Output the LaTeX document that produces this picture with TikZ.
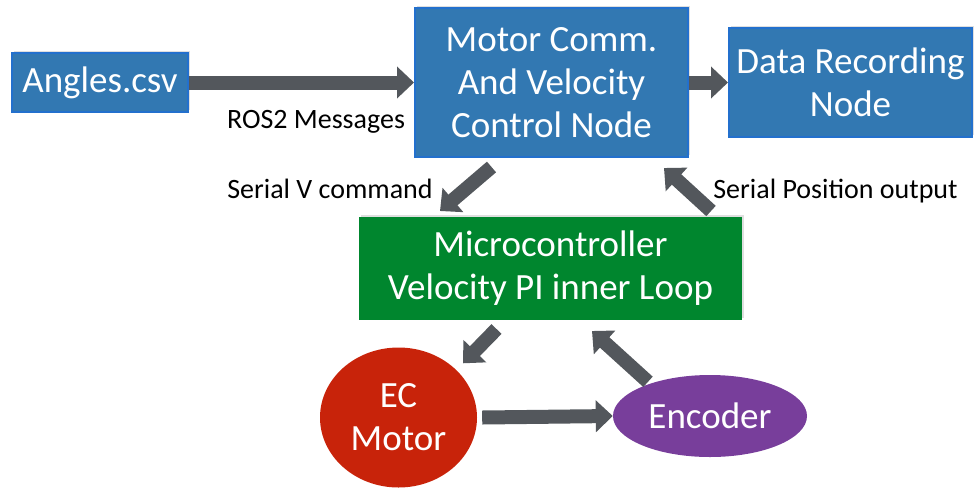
\documentclass[tikz,border=0pt]{standalone}
\usepackage{fontspec}
\setmainfont{Carlito}
\usetikzlibrary{arrows.meta,calc,shapes.geometric,shadows}
\definecolor{boxblue}{RGB}{50,120,178}
\definecolor{boxedge}{RGB}{35,112,205}
\definecolor{boxgreen}{RGB}{0,134,46}
\definecolor{boxred}{RGB}{200,35,10}
\definecolor{boxpurple}{RGB}{120,62,155}
\definecolor{arrowgray}{RGB}{83,87,92}
\tikzset{
  block/.style = {rectangle, draw=boxedge, line width=2pt, fill=boxblue, text=white,
    align=center, font=\fontsize{37}{43}\selectfont,
    drop shadow={opacity=0.25, shadow xshift=1.5pt, shadow yshift=2pt}},
  bigarrow/.style = {draw=arrowgray, line width=14pt,
    -{Triangle[length=17pt,width=31pt]}},
  caption/.style = {anchor=base, font=\fontsize{28}{32}\selectfont}
}
\tikzset{>=latex}
\begin{document}
\begin{tikzpicture}[x=1pt,y=-1pt]
  \clip (0,0) rectangle (974,491);
  \node (angles) at (100,82.5) [block, minimum width=176, minimum height=59] {Angles.csv};
  \node (ctrl) at (551.5,82.5) [block, minimum width=273, minimum height=149] {Motor Comm.\\And Velocity\\Control Node};
  \node (rec) at (850.5,82.5) [block, minimum width=243, minimum height=109] {Data Recording\\Node};
  \node (mcu) at (550.5,268.5) [block, draw=none, fill=boxgreen, minimum width=383, minimum height=103] {Microcontroller\\Velocity PI inner Loop};
  \node (motor) at (398.5,417.5) [ellipse, fill=boxred, text=white, align=center, font=\fontsize{37}{43}\selectfont, minimum width=157, minimum height=140, inner sep=0pt] {EC\\Motor};
  \node (enc) at (710,416) [ellipse, fill=boxpurple, text=white, font=\fontsize{37}{43}\selectfont, minimum width=194, minimum height=82, inner sep=0pt] {Encoder};
  % connectors
  \draw[bigarrow] (angles.east) -- (ctrl.west);
  \draw[bigarrow] (ctrl.east) -- (rec.west);
  \draw[bigarrow] ($(ctrl.south)+(-60,9)$) -- ($(mcu.north)+(-110.5,-5)$);
  \draw[bigarrow] ($(mcu.north)+(160.5,-5)$) -- ($(ctrl.south)+(112.5,10)$);
  \draw[bigarrow] ($(mcu.south)+(-54,8)$) -- ($(motor.north)+(64.5,16)$);
  \draw[bigarrow] ($(motor.east)+(5,0)$) -- (enc.west);
  \draw[bigarrow] ($(enc.north)+(-62,7)$) -- ($(mcu.south)+(41.5,10)$);
  % labels
  \node (ros) at (316,128) [caption] {ROS2 Messages};
  \node (vcmd) at (330,198) [caption] {Serial V command};
  \node (pos) at (835.5,198) [caption] {Serial Position output};
\end{tikzpicture}
\end{document}
